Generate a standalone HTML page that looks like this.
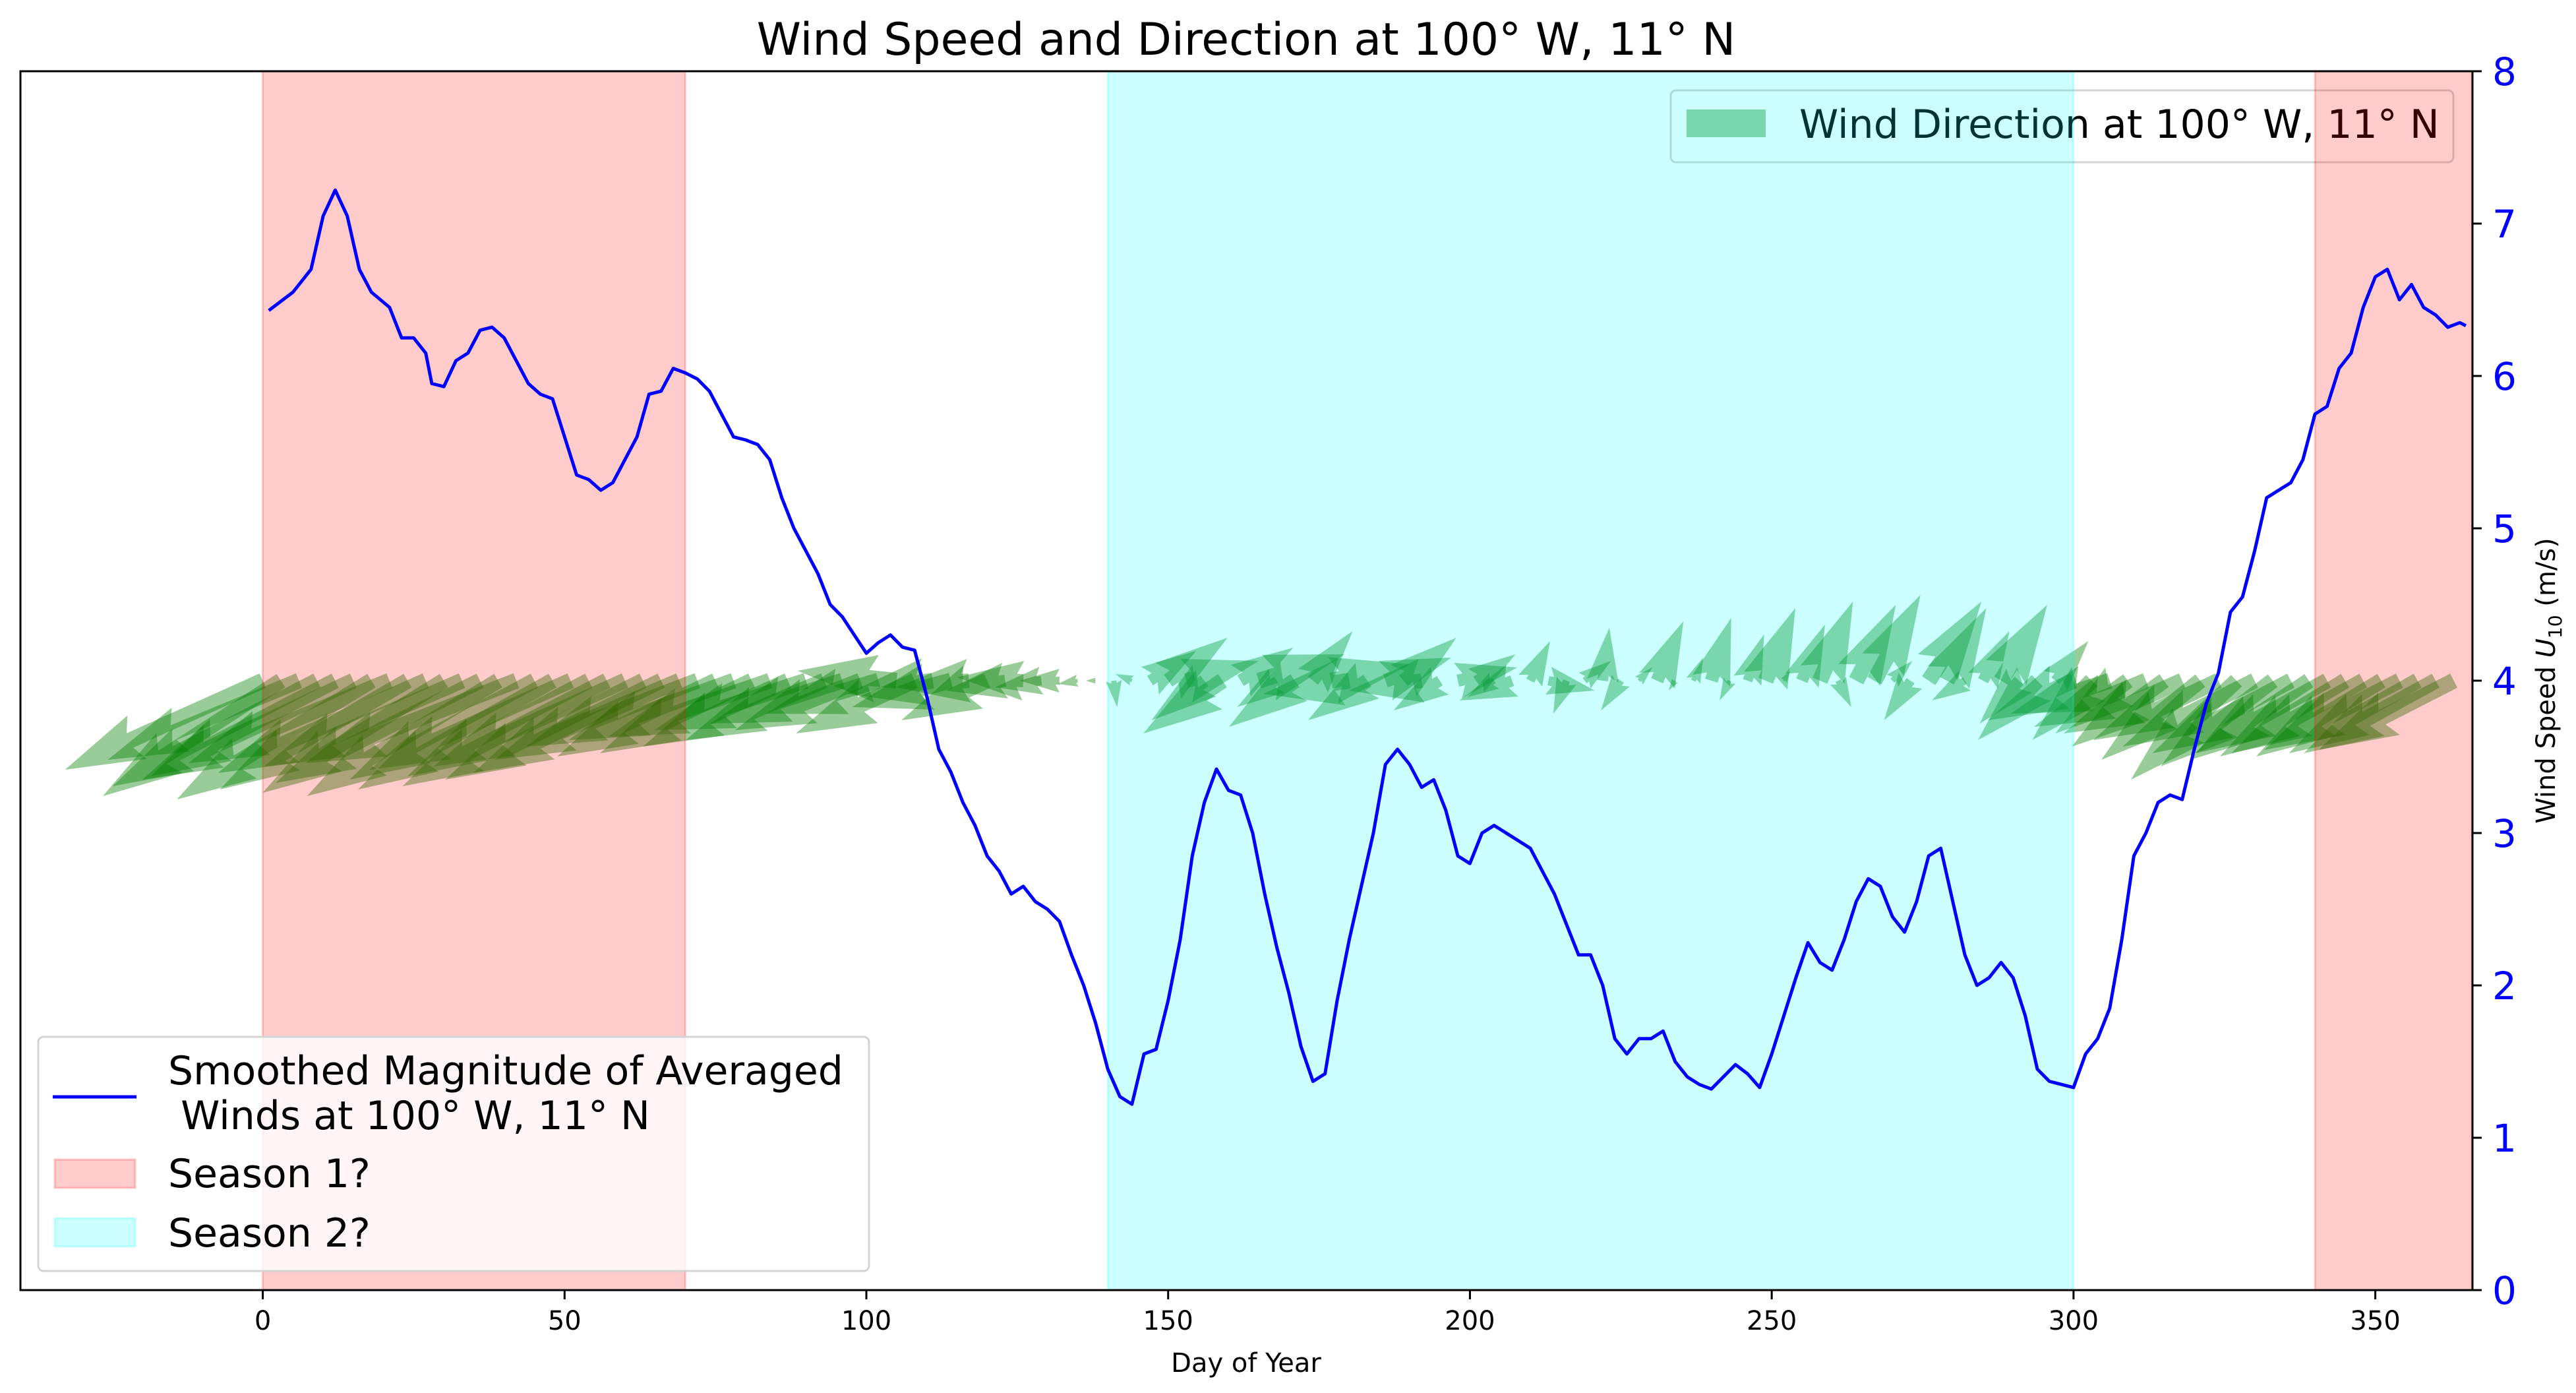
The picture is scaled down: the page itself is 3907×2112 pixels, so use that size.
<!DOCTYPE html>
<html><head><meta charset="utf-8">
<style>
html,body{margin:0;padding:0;background:#fff;}
svg{display:block;font-family:"DejaVu Sans","Liberation Sans",sans-serif;}
</style></head>
<body>
<svg id="chart" width="3907" height="2112" viewBox="0 0 3907 2112" xmlns="http://www.w3.org/2000/svg">
<g id="quiverLayer"></g>
<g id="legend2">
  <rect x="2534" y="137" width="1187" height="109" rx="8" fill="none" stroke="#d4d4d4" stroke-width="3"/>
  <rect x="2558" y="166" width="120" height="42" fill="rgba(0,128,0,0.4)"/>
  <text x="2729" y="209" font-size="60" fill="#000">Wind Direction at 100° W, 11° N</text>
</g>
<g id="spanLayer"></g>
<path id="speedLine" fill="none" stroke="#0000ff" stroke-width="5" stroke-linejoin="round"/>
<rect x="31" y="108" width="3719" height="1848" fill="none" stroke="#000" stroke-width="3"/>
<g id="xTicks"></g>
<g id="yTicks"></g>
<text x="1890" y="83" font-size="68" text-anchor="middle">Wind Speed and Direction at 100° W, 11° N</text>
<text x="1890" y="2080" font-size="40" text-anchor="middle">Day of Year</text>
<text transform="translate(3875,1032) rotate(-90)" font-size="40" text-anchor="middle">Wind Speed <tspan font-style="italic">U</tspan><tspan font-size="28" dy="10">10</tspan><tspan dy="-10"> (m/s)</tspan></text>
<g id="legend1">
  <rect x="58" y="1572" width="1260" height="355" rx="8" fill="rgba(255,255,255,0.8)" stroke="#d4d4d4" stroke-width="3"/>
  <line x1="80" y1="1663" x2="207" y2="1663" stroke="#0000ff" stroke-width="5"/>
  <text x="255" y="1644" font-size="60">Smoothed Magnitude of Averaged</text>
  <text x="255" y="1712" font-size="60">&#160;Winds at 100° W, 11° N</text>
  <rect x="83" y="1758" width="122" height="43" fill="rgba(255,0,0,0.2)" stroke="rgba(255,0,0,0.2)" stroke-width="3"/>
  <text x="255" y="1800" font-size="60">Season 1?</text>
  <rect x="83" y="1847" width="122" height="43" fill="rgba(0,255,255,0.2)" stroke="rgba(0,255,255,0.2)" stroke-width="3"/>
  <text x="255" y="1890" font-size="60">Season 2?</text>
</g>
</svg>
<script>
const NS="http://www.w3.org/2000/svg";
// ---- data ----
const speedDays=[1,5,8,10,12,14,16,18,21,23,25,27,28,30,32,34,36,38,40,42,44,46,48,50,52,54,56,58,60,62,64,66,68,70,72,74,76,78,80,82,84,86,88,90,92,94,96,98,100,102,104,106,108,110,112,114,116,118,120,122,124,126,128,130,132,134,136,138,140,142,144,146,148,150,152,154,156,158,160,162,164,166,168,170,172,174,176,178,180,182,184,186,188,190,192,194,196,198,200,202,204,206,208,210,212,214,216,218,220,222,224,226,228,230,232,234,236,238,240,242,244,246,248,250,252,254,256,258,260,262,264,266,268,270,272,274,276,278,280,282,284,286,288,290,292,294,296,298,300,302,304,306,308,310,312,314,316,318,320,322,324,326,328,330,332,334,336,338,340,342,344,346,348,350,352,354,356,358,360,362,364,365];
const speedValues=[6.43,6.55,6.7,7.05,7.22,7.05,6.7,6.55,6.45,6.25,6.25,6.15,5.95,5.93,6.1,6.15,6.3,6.32,6.25,6.1,5.95,5.88,5.85,5.6,5.35,5.32,5.25,5.3,5.45,5.6,5.88,5.9,6.05,6.02,5.98,5.9,5.75,5.6,5.58,5.55,5.45,5.2,5.0,4.85,4.7,4.5,4.42,4.3,4.18,4.25,4.3,4.22,4.2,3.9,3.55,3.4,3.2,3.05,2.85,2.75,2.6,2.65,2.55,2.5,2.42,2.2,2.0,1.75,1.45,1.27,1.22,1.55,1.58,1.9,2.3,2.85,3.2,3.42,3.28,3.25,3.0,2.6,2.25,1.95,1.6,1.37,1.42,1.9,2.3,2.65,3.0,3.45,3.55,3.45,3.3,3.35,3.15,2.85,2.8,3.0,3.05,3.0,2.95,2.9,2.75,2.6,2.4,2.2,2.2,2.0,1.65,1.55,1.65,1.65,1.7,1.5,1.4,1.35,1.32,1.4,1.48,1.42,1.33,1.55,1.8,2.05,2.28,2.15,2.1,2.3,2.55,2.7,2.65,2.45,2.35,2.55,2.85,2.9,2.55,2.2,2.0,2.05,2.15,2.05,1.8,1.45,1.37,1.35,1.33,1.55,1.65,1.85,2.3,2.85,3.0,3.2,3.25,3.22,3.55,3.85,4.05,4.45,4.55,4.85,5.2,5.25,5.3,5.45,5.75,5.8,6.05,6.15,6.45,6.65,6.7,6.5,6.6,6.45,6.4,6.32,6.35,6.33];
const windU=[-6.0,-5.4,-5.8,-6.2,-5.6,-6.4,-5.9,-6.1,-5.7,-6.3,-5.5,-6.0,-6.2,-5.8,-6.4,-5.6,-5.9,-6.1,-5.5,-6.2,-5.8,-6.0,-5.7,-5.6,
-5.2,-4.8,-5.0,-4.6,-4.9,-4.4,-4.6,-4.2,-4.0,-3.8,
-3.4,-3.0,-3.6,-2.6,-3.0,-2.2,-2.6,-1.8,-2.0,-1.4,-1.2,
-0.6,-0.3,
0.1,-0.5,1.4,1.8,2.2,-1.6,-2.4,1.6,2.6,-1.2,-2.0,1.2,2.4,-2.6,-1.8,2.0,1.6,-2.2,-1.4,1.8,1.2,-0.8,-1.6,0.6,1.4,-0.4,0.8,0.2,-0.6,0.4,0.8,-0.2,0.3,0.6,-0.3,0.5,0.9,0.2,0.7,1.0,0.4,1.2,1.4,0.6,-0.8,1.6,1.2,-1.0,0.8,1.4,-1.2,-1.8,1.0,
-2.6,-1.8,-3.0,-2.2,-3.4,-2.8,-3.6,-3.0,-3.8,-3.2,-4.0,-3.4,-4.2,-3.6,-4.0,-3.8,-4.0,-3.8,-4.1,-3.9,-4.0,-4.1];
const windV=[-2.7,-3.5,-2.4,-3.2,-2.9,-3.0,-3.6,-2.5,-3.3,-2.8,-3.4,-2.6,-3.1,-3.5,-2.5,-3.0,-3.3,-2.7,-2.9,-3.2,-2.6,-3.0,-2.8,-2.4,
-2.0,-2.3,-1.8,-2.2,-1.7,-2.0,-1.5,-1.8,-1.3,-1.5,
-1.0,0.3,-1.6,-0.4,-0.8,-0.2,-1.2,-0.3,0.1,-0.2,0.0,
-0.1,0.0,
-0.8,0.2,0.9,1.3,0.6,-1.2,-1.6,1.0,0.8,-0.8,-1.4,1.5,0.5,-0.4,-1.2,0.7,1.3,-0.3,-0.9,0.4,0.8,-0.5,-0.6,1.2,-0.3,-1.0,0.6,1.6,-0.9,0.4,1.8,-0.3,0.7,1.9,-0.6,1.4,2.2,0.3,1.7,2.4,-0.8,2.3,2.6,0.6,-1.2,2.4,2.2,-0.6,1.5,2.3,-1.3,-1.8,1.2,
-1.2,-1.8,-1.0,-1.6,-1.4,-2.0,-1.6,-2.4,-1.8,-3.0,-2.0,-2.6,-2.2,-2.4,-2.2,-2.3,-2.2,-2.3,-2.1,-2.2,-2.2,-2.1];
const arrowStartDay=0, arrowStepDays=3, arrowBaseLevel=4;
const seasonStarts=[0,140,340];
const seasonEnds=[70,300,366];
const seasonIds=[1,2,1];
const xTickValues=[0,50,100,150,200,250,300,350];
const yTickValues=[0,1,2,3,4,5,6,7,8];
// ---- axes ----
const X0=-40.15, X1=366.1, PX0=31, PX1=3750;
const PY0=1956, PY1=108, Y0=0, Y1=8;
const xs=d=>PX0+(d-X0)*(PX1-PX0)/(X1-X0);
const ys=v=>PY0-(v-Y0)*(PY0-PY1)/(Y1-Y0);
const ARROW_SCALE=50; // px per m/s
// spans
const spanG=document.getElementById('spanLayer');
seasonStarts.forEach((s,i)=>{
  const r=document.createElementNS(NS,'rect');
  const x=xs(s), x2=Math.min(xs(seasonEnds[i]),PX1);
  r.setAttribute('x',x);r.setAttribute('y',PY1);r.setAttribute('width',x2-x);r.setAttribute('height',PY0-PY1);
  r.setAttribute('fill',seasonIds[i]===1?'rgba(255,0,0,0.2)':'rgba(0,255,255,0.2)');
  r.setAttribute('stroke',seasonIds[i]===1?'rgba(255,0,0,0.2)':'rgba(0,255,255,0.2)');
  r.setAttribute('stroke-width','3');
  
  
  spanG.appendChild(r);
});
// line
let d='';
speedDays.forEach((day,i)=>{d+=(i?'L':'M')+xs(day).toFixed(1)+' '+ys(speedValues[i]).toFixed(1);});
document.getElementById('speedLine').setAttribute('d',d);
// quiver
const qg=document.getElementById('quiverLayer');
const W=24;
windU.forEach((u,i)=>{
  const day=arrowStartDay+i*arrowStepDays;
  const tx=xs(day), ty=ys(arrowBaseLevel);
  const dx=u*ARROW_SCALE, dy=-windV[i]*ARROW_SCALE;
  const L=Math.hypot(dx,dy); if(L<0.5) return;
  let w=W, hl=5*W, hal=4.5*W, hw=1.5*W;
  if(L<hl){const k=L/hl; w*=k; hl*=k; hal*=k; hw*=k;}
  const pts=[[0,-w/2],[L-hal,-w/2],[L-hl,-hw],[L,0],[L-hl,hw],[L-hal,w/2],[0,w/2]];
  const c=dx/L, s=dy/L;
  const p=document.createElementNS(NS,'polygon');
  p.setAttribute('points',pts.map(([a,b])=>(tx+a*c-b*s).toFixed(1)+','+(ty+a*s+b*c).toFixed(1)).join(' '));
  p.setAttribute('fill','rgba(0,128,0,0.4)');
  
  
  qg.appendChild(p);
});
// x ticks
const xg=document.getElementById('xTicks');
xTickValues.forEach(v=>{
  const l=document.createElementNS(NS,'line');
  l.setAttribute('x1',xs(v));l.setAttribute('x2',xs(v));l.setAttribute('y1',PY0);l.setAttribute('y2',PY0+14);
  l.setAttribute('stroke','#000');l.setAttribute('stroke-width','3');
  
  
  xg.appendChild(l);
  const t=document.createElementNS(NS,'text');
  t.setAttribute('x',xs(v));t.setAttribute('y',2016);t.setAttribute('font-size','40');t.setAttribute('text-anchor','middle');
  t.textContent=v;
  
  
  xg.appendChild(t);
});
// y ticks (right)
const yg=document.getElementById('yTicks');
yTickValues.forEach(v=>{
  const l=document.createElementNS(NS,'line');
  l.setAttribute('x1',PX1);l.setAttribute('x2',PX1+14);l.setAttribute('y1',ys(v));l.setAttribute('y2',ys(v));
  l.setAttribute('stroke','#000');l.setAttribute('stroke-width','3');
  
  
  yg.appendChild(l);
  const t=document.createElementNS(NS,'text');
  t.setAttribute('x',3780);t.setAttribute('y',ys(v)+21);t.setAttribute('font-size','58');t.setAttribute('fill','#0000ff');
  t.textContent=v;
  
  
  yg.appendChild(t);
});
</script>
</body></html>
